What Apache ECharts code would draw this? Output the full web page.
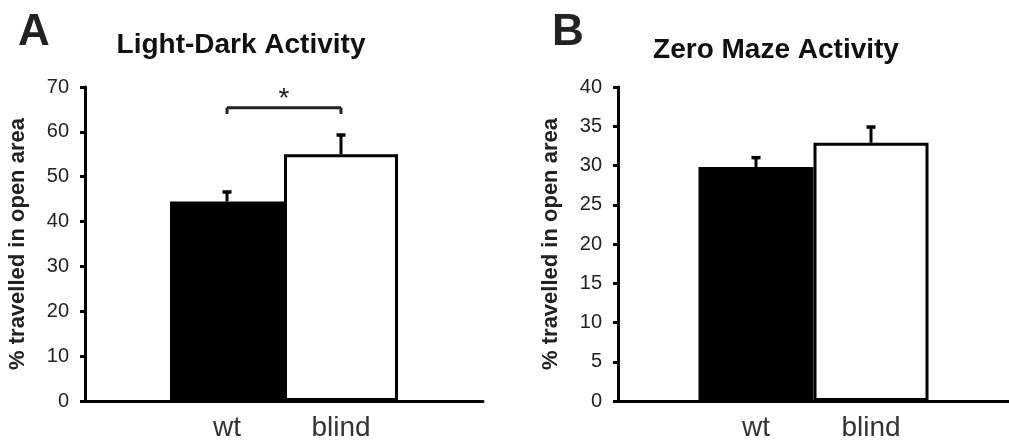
<!DOCTYPE html>
<html>
<head>
<meta charset="utf-8">
<style>
  html, body { margin: 0; padding: 0; background: #fff; }
  #main { width: 1009px; height: 442px; }
</style>
</head>
<body>
<div id="main"></div>
<script src="https://cdn.jsdelivr.net/npm/echarts@6/dist/echarts.min.js"></script>
<script type="text/javascript">
    // groups
    var groups = ['wt', 'blind'];
    var fills = ['#000000', '#ffffff'];

    // light-dark test (panel A)
    var ldMean = [44.5, 55.0];
    var ldUpper = [46.6, 59.3];
    var ldTicks = [0, 10, 20, 30, 40, 50, 60, 70];
    var ldSig = [65.4, 64.0, 67.2]; // bracket, bracket ends, star

    // zero maze (panel B)
    var zmMean = [29.8, 32.9];
    var zmUpper = [31.0, 34.9];
    var zmTicks = [0, 5, 10, 15, 20, 25, 30, 35, 40];

    var FONT = '"Liberation Sans", Arial, sans-serif';

    function errRender(barW) {
        return function (params, api) {
            var i = api.value(3);
            var base = api.coord([0, api.value(1)]);
            var top = api.coord([0, api.value(2)]);
            var x = base[0] + (i - 0.5) * barW;
            var st = { stroke: '#000', lineWidth: 3 };
            return {
                type: 'group',
                children: [
                    { type: 'line', shape: { x1: x, y1: base[1], x2: x, y2: top[1] }, style: st },
                    { type: 'line', shape: { x1: x - 4.5, y1: top[1], x2: x + 4.5, y2: top[1] }, style: { stroke: '#000', lineWidth: 3.5 } }
                ]
            };
        };
    }

    function sigRender(barW) {
        return function (params, api) {
            var c = api.coord([0, api.value(1)]);
            var e = api.coord([0, api.value(2)]);
            var s = api.coord([0, api.value(3)]);
            var x1 = c[0] - barW / 2, x2 = c[0] + barW / 2;
            var st = { stroke: '#222', lineWidth: 3 };
            return {
                type: 'group',
                children: [
                    { type: 'line', shape: { x1: x1, y1: c[1], x2: x2, y2: c[1] }, style: st },
                    { type: 'line', shape: { x1: x1, y1: c[1], x2: x1, y2: e[1] }, style: st },
                    { type: 'line', shape: { x1: x2, y1: c[1], x2: x2, y2: e[1] }, style: st },
                    { type: 'text', x: c[0], y: s[1], style: { text: '*', font: '28px ' + FONT, fill: '#222', align: 'center', verticalAlign: 'middle' } }
                ]
            };
        };
    }

    function panelSeries(idx, mean, upper, barW) {
        var out = groups.map(function (g, i) {
            return {
                name: g,
                type: 'bar',
                xAxisIndex: idx,
                yAxisIndex: idx,
                barWidth: barW,
                barGap: '0%',
                data: [mean[i]],
                itemStyle: { color: fills[i], borderColor: '#000', borderWidth: i === 0 ? 0 : 3 },
                label: {
                    show: true, position: 'bottom', distance: 13, formatter: '{a}',
                    fontFamily: FONT, fontSize: 28, color: '#333'
                },
                silent: true
            };
        });
        out.push({
            type: 'custom',
            xAxisIndex: idx,
            yAxisIndex: idx,
            renderItem: errRender(barW),
            encode: { x: 0, y: 2 },
            data: groups.map(function (g, i) { return [0, mean[i], upper[i], i]; }),
            z: 5,
            silent: true
        });
        return out;
    }

    function yAxis(idx, ticks) {
        return {
            type: 'value',
            gridIndex: idx,
            min: ticks[0],
            max: ticks[ticks.length - 1],
            interval: ticks[1] - ticks[0],
            name: '% travelled in open area',
            nameLocation: 'middle',
            nameGap: 56,
            nameTextStyle: { fontFamily: FONT, fontWeight: 'bold', fontSize: 22, color: '#222' },
            axisLine: { show: true, lineStyle: { color: '#000', width: 3 } },
            axisTick: { show: true, length: 5, lineStyle: { color: '#000', width: 3 } },
            axisLabel: { fontFamily: FONT, fontSize: 20, color: '#222', margin: 16 },
            splitLine: { show: false }
        };
    }

    function xAxis(idx) {
        return {
            type: 'category',
            gridIndex: idx,
            data: ['all'],
            axisLine: { show: true, lineStyle: { color: '#000', width: 3 } },
            axisTick: { show: false },
            axisLabel: { show: false }
        };
    }

    var chart = echarts.init(document.getElementById('main'));

    var series = panelSeries(0, ldMean, ldUpper, 114).concat(panelSeries(1, zmMean, zmUpper, 115));
    series.push({
        type: 'custom',
        xAxisIndex: 0,
        yAxisIndex: 0,
        renderItem: sigRender(114),
        encode: { x: 0, y: 1 },
        data: [[0, ldSig[0], ldSig[1], ldSig[2]]],
        z: 5,
        silent: true
    });

    var option = {
        backgroundColor: '#fff',
        animation: false,
        grid: [
            { left: 85, top: 87, width: 398, height: 314 },
            { left: 618, top: 87, width: 400, height: 314 }
        ],
        xAxis: [xAxis(0), xAxis(1)],
        yAxis: [yAxis(0, ldTicks), yAxis(1, zmTicks)],
        graphic: [
            { type: 'text', x: 18, y: 33, style: { text: 'A', font: 'bold 44px ' + FONT, fill: '#222', verticalAlign: 'middle' } },
            { type: 'text', x: 241, y: 45, style: { text: 'Light-Dark Activity', font: 'bold 28px ' + FONT, fill: '#111', align: 'center', verticalAlign: 'middle' } },
            { type: 'text', x: 552, y: 33, style: { text: 'B', font: 'bold 44px ' + FONT, fill: '#222', verticalAlign: 'middle' } },
            { type: 'text', x: 776, y: 50, style: { text: 'Zero Maze Activity', font: 'bold 28px ' + FONT, fill: '#111', align: 'center', verticalAlign: 'middle' } }
        ],
        series: series
    };

    chart.setOption(option);
</script>
</body>
</html>
